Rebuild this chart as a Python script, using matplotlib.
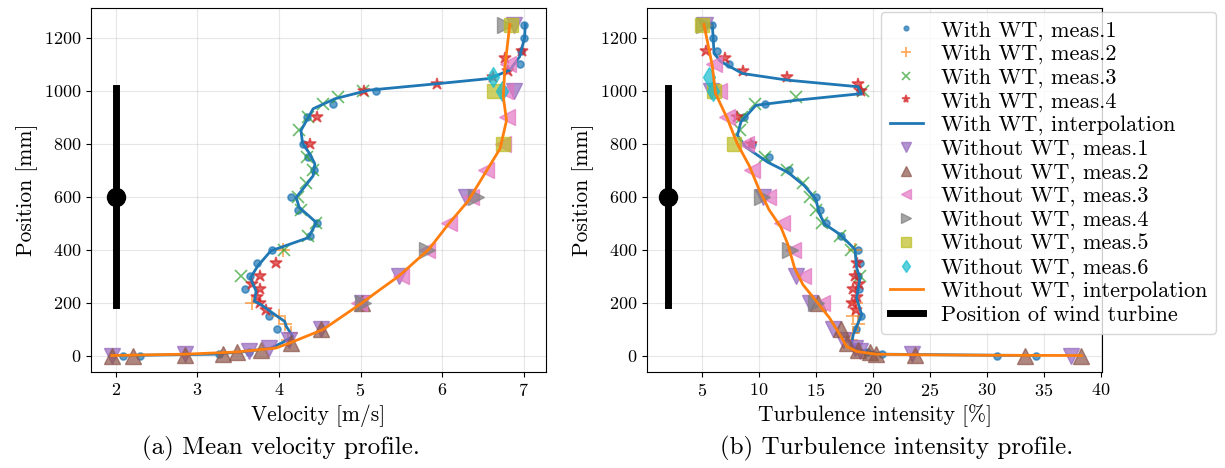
import numpy as np
import matplotlib
matplotlib.use("Agg")
import matplotlib.pyplot as plt

plt.rcParams['font.family'] = 'serif'
plt.rcParams['font.serif'] = ['cmr10']
plt.rcParams['mathtext.fontset'] = 'cm'
plt.rcParams['axes.formatter.use_mathtext'] = True
plt.rcParams['font.size'] = 13
plt.rcParams['axes.labelsize'] = 15.5

# ---- With wind turbine: measurements (height [mm], velocity [m/s], TI [%])
wt1_z = [0, 0, 5, 15, 100, 150, 250, 300, 350, 400, 450, 500, 550, 600, 700, 750, 800, 900, 950, 1000, 1100, 1150, 1200, 1250]
wt1_u = [2.09, 2.30, 3.26, 3.63, 3.98, 3.88, 3.59, 3.65, 3.73, 3.92, 4.38, 4.47, 4.23, 4.15, 4.43, 4.36, 4.29, 4.35, 4.66, 5.19, 6.95, 6.97, 7.00, 7.01]
wt1_ti = [30.9, 34.3, 20.8, 19.5, 18.5, 19.0, 18.8, 18.7, 18.9, 18.7, 17.2, 15.9, 15.4, 15.0, 12.6, 10.9, 9.4, 8.7, 10.5, 18.9, 7.4, 6.35, 6.0, 5.86]

wt2_z = [60, 85, 120, 150, 200, 400]
wt2_u = [4.11, 4.15, 4.07, 4.00, 3.67, 4.05]
wt2_ti = [18.1, 18.3, 18.7, 18.3, 18.5, 18.4]

wt3_z = [300, 400, 450, 500, 550, 600, 650, 700, 750, 850, 900, 950, 975, 1000]
wt3_u = [3.54, 4.06, 4.36, 4.45, 4.27, 4.23, 4.33, 4.42, 4.35, 4.25, 4.36, 4.54, 4.73, 5.03]
wt3_ti = [18.9, 18.1, 17.1, 15.5, 15.0, 14.5, 13.9, 12.5, 10.5, 8.3, 8.5, 9.7, 13.3, 19.1]

wt4_z = [170, 200, 220, 250, 270, 300, 350, 800, 900, 1000, 1025, 1050, 1075, 1125, 1150]
wt4_u = [3.84, 3.77, 3.73, 3.77, 3.67, 3.77, 3.97, 4.38, 4.47, 5.04, 5.94, 6.62, 6.81, 6.77, 6.98]
wt4_ti = [18.5, 18.2, 18.6, 18.3, 18.8, 18.4, 18.6, 9.3, 8.1, 19.0, 18.7, 12.5, 8.65, 7.0, 5.4]

# interpolation of the with-WT profiles
wt_line_z = [0, 5, 15, 28, 50, 72, 110, 129, 148, 192, 205, 243, 293, 338, 395, 445, 502, 559, 597, 635, 679, 724, 761, 800, 850, 932, 970, 1002, 1027, 1046, 1078, 1128, 1198, 1250]
wt_line_u = [2.05, 3.2, 3.6, 3.9, 4.05, 4.17, 4.09, 4.07, 3.98, 3.78, 3.70, 3.72, 3.65, 3.74, 3.90, 4.36, 4.46, 4.25, 4.21, 4.31, 4.42, 4.44, 4.38, 4.29, 4.27, 4.42, 4.69, 5.10, 5.96, 6.58, 6.83, 6.95, 7.01, 7.02]
wt_ti_line_z = [0, 1, 5, 20, 41, 79, 110, 154, 217, 293, 331, 401, 458, 496, 537, 590, 641, 692, 730, 787, 831, 882, 945, 964, 989, 1015, 1040, 1065, 1110, 1141, 1192, 1250]
wt_ti_line = [34.3, 30.9, 20.8, 19.0, 18.13, 18.28, 18.58, 19.02, 18.58, 18.87, 18.58, 18.43, 17.1, 15.78, 15.3, 15.0, 14.0, 12.54, 10.77, 8.86, 8.12, 8.42, 9.74, 13.3, 19.0, 18.7, 12.5, 8.56, 6.65, 6.06, 6.0, 5.91]

# ---- Without wind turbine: measurements
nw1_z = [0, 5, 18, 28, 60, 100, 200, 300, 600, 1000, 1250]
nw1_u = [1.95, 2.85, 3.63, 3.88, 4.12, 4.52, 5.02, 5.47, 6.29, 6.88, 6.88]
nw1_ti = [37.4, 23.4, 18.9, 18.4, 17.4, 16.5, 14.5, 13.3, 10.4, 5.8, 5.3]

nw2_z = [0, 0, 3, 5, 13, 21, 47, 100, 200]
nw2_u = [1.95, 2.21, 2.85, 3.32, 3.49, 3.78, 4.15, 4.52, 5.02]
nw2_ti = [38.3, 33.4, 23.7, 20.3, 19.75, 18.7, 17.7, 17.25, 15.2]

nw3_z = [200, 300, 400, 500, 600, 700, 800, 900, 1000, 1100]
nw3_u = [4.98, 5.50, 5.82, 6.08, 6.35, 6.54, 6.75, 6.79, 6.77, 6.81]
nw3_ti = [15.5, 13.9, 13.0, 12.0, 10.8, 9.4, 8.9, 7.2, 6.5, 6.1]

nw4_z = [200, 400, 600, 1250]
nw4_u = [5.03, 5.82, 6.42, 6.77]
nw4_ti = [15.0, 12.7, 10.3, 5.2]

nw5_z = [800, 1000, 1250]
nw5_u = [6.75, 6.64, 6.85]
nw5_ti = [7.8, 6.1, 5.0]

nw6_z = [1000, 1050]
nw6_u = [6.73, 6.62]
nw6_ti = [6.0, 5.6]

nw_line_z = [0, 5, 13, 28, 47, 98, 199, 249, 300, 402, 497, 584, 700, 781, 888, 977, 1090, 1250]
nw_line_u = [1.95, 2.85, 3.47, 3.96, 4.13, 4.54, 5.02, 5.24, 5.47, 5.84, 6.08, 6.32, 6.55, 6.71, 6.79, 6.75, 6.77, 6.83]
nw_ti_line_z = [0, 1, 3, 5, 15, 34, 79, 142, 205, 268, 331, 420, 483, 550, 629, 717, 800, 894, 989, 1097, 1250]
nw_ti_line = [38.3, 30.0, 23.5, 20.3, 18.6, 17.7, 17.1, 16.2, 15.04, 13.86, 13.13, 12.54, 11.95, 10.9, 10.0, 9.15, 8.1, 7.24, 6.2, 5.9, 5.18]

# wind turbine position
tower_x = 2
tower_z = [190, 1010]
hub_z = 600

fig, (ax1, ax2) = plt.subplots(1, 2, figsize=(12.25, 4.68), dpi=100)
ax1.set_position([0.0743, 0.205, 0.3714, 0.778])
ax2.set_position([0.5282, 0.205, 0.3714, 0.778])

wt_meas = [(wt1_z, wt1_u, wt1_ti, 'o', 5), (wt2_z, wt2_u, wt2_ti, '+', 10),
           (wt3_z, wt3_u, wt3_ti, 'x', 9), (wt4_z, wt4_u, wt4_ti, '*', 9)]
nw_meas = [(nw1_z, nw1_u, nw1_ti, 'v', 11), (nw2_z, nw2_u, nw2_ti, '^', 11),
           (nw3_z, nw3_u, nw3_ti, '<', 11), (nw4_z, nw4_u, nw4_ti, '>', 11),
           (nw5_z, nw5_u, nw5_ti, 's', 10), (nw6_z, nw6_u, nw6_ti, 'd', 10)]

for ax, col, wline, wlz, nline, nlz in [(ax1, 2, wt_line_u, wt_line_z, nw_line_u, nw_line_z),
                                        (ax2, 3, wt_ti_line, wt_ti_line_z, nw_ti_line, nw_ti_line_z)]:
    for i, m in enumerate(wt_meas):
        z, u, ti, mk, ms = m
        x = u if col == 2 else ti
        ax.plot(x, z, mk, color='C%d' % i, ms=ms, alpha=0.7, mew=1.2,
                label='With WT, meas.%d' % (i + 1))
    ax.plot(wline, wlz, '-', color='C0', lw=2, label='With WT, interpolation')
    for i, m in enumerate(nw_meas):
        z, u, ti, mk, ms = m
        x = u if col == 2 else ti
        ax.plot(x, z, mk, color='C%d' % (i + 4), ms=ms, alpha=0.7,
                label='Without WT, meas.%d' % (i + 1))
    ax.plot(nline, nlz, '-', color='C1', lw=2, label='Without WT, interpolation')
    ax.plot([tower_x, tower_x], tower_z, 'k-', lw=5, label='Position of wind turbine')
    ax.plot(tower_x, hub_z, 'ko', ms=13)
    ax.grid(True, alpha=0.3)
    ax.set_ylabel('Position [mm]')

ax1.set_xlabel('Velocity [m/s]')
ax2.set_xlabel('Turbulence intensity [%]')
ax1.set_yticks([0, 200, 400, 600, 800, 1000, 1200])
ax2.set_yticks([0, 200, 400, 600, 800, 1000, 1200])
ax2.set_xticks([5, 10, 15, 20, 25, 30, 35, 40])

ax2.legend(loc='upper left', bbox_to_anchor=(0.719, 0.975), bbox_transform=fig.transFigure,
           markerscale=0.65, fontsize=16, labelspacing=0.17, borderaxespad=0,
           handlelength=1.5, handletextpad=0.8)

fig.text(0.229, 0.03, '(a) Mean velocity profile.', ha='center', fontsize=18)
fig.text(0.732, 0.03, '(b) Turbulence intensity profile.', ha='center', fontsize=18)

fig.savefig('out.png', dpi=100)
